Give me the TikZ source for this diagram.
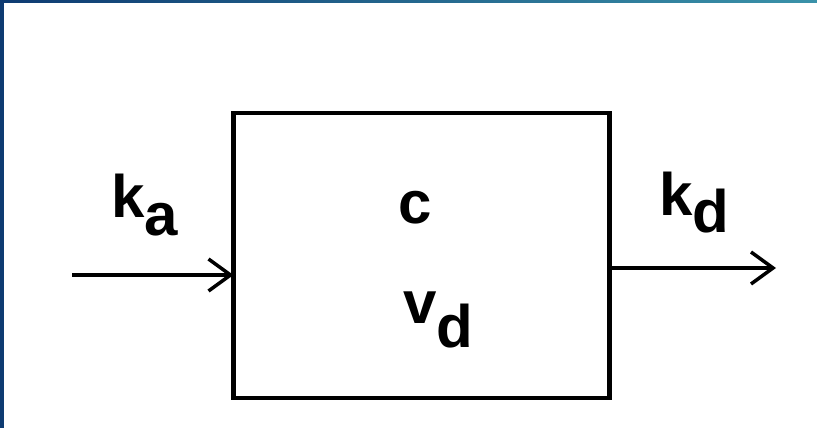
\documentclass[tikz,border=0pt]{standalone}
\usepackage{fontspec}
\setmainfont{Liberation Sans}
\usetikzlibrary{arrows.meta}
\definecolor{frameblue}{HTML}{0E3B72}
\definecolor{frameteal}{HTML}{3A92A9}
\tikzset{
  lbl/.style={inner sep=0pt, anchor=base west, font=\fontsize{60}{64}\selectfont\bfseries},
  compartment/.style={draw, line width=4.5pt, outer sep=0pt, inner sep=0pt},
  flow/.style={line width=3.5pt, -{Straight Barb[length=22pt, width=32pt, line width=3.5pt]}}
}
\begin{document}
\begin{tikzpicture}[x=1pt, y=-1pt]
  \useasboundingbox (0,0) rectangle (817,428);
  \fill[white] (0,0) rectangle (817,428);
  % frame strips
  \shade[left color=frameblue, right color=frameteal] (0,0) rectangle (817,2.5);
  \fill[frameblue] (0,0) rectangle (4,428);
  % compartment
  \node[compartment, minimum width=376pt, minimum height=285pt] (box) at (421.5,255.5) {};
  % labels
  \node[lbl] (ka) at (111,217) {k\raisebox{-18pt}{a}};
  \node[lbl] (kd) at (659,215) {k\raisebox{-17pt}{d}};
  \node[lbl] (c) at (398,223) {c};
  \node[lbl] (vd) at (403,323) {v\raisebox{-24pt}{d}};
  % flows
  \coordinate (src) at (72,275);
  \coordinate (dst) at (776,268);
  \draw[flow] (src) -- (box.west |- src);
  \draw[flow] (box.east |- dst) -- (dst);
\end{tikzpicture}
\end{document}
